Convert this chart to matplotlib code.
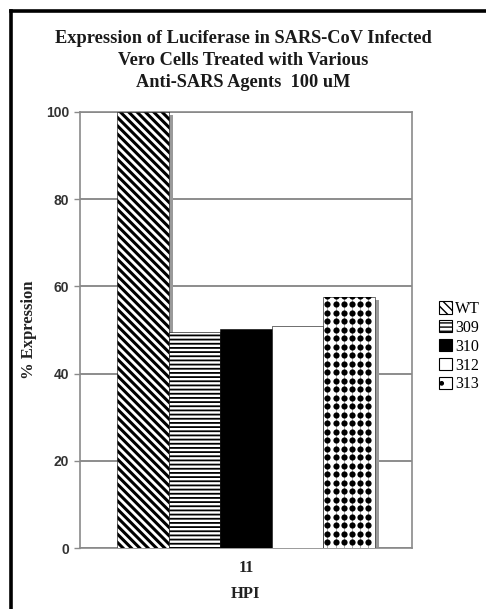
import numpy as np
import matplotlib
matplotlib.use('Agg')
import matplotlib.pyplot as plt
from matplotlib.patches import Patch
from matplotlib.lines import Line2D

# ---- data ----
groups = ['11']
series = ['WT', '309', '310', '312', '313']
values = [100.0, 49.6, 50.2, 50.9, 57.6]
hatches = ['\\\\\\\\', '----', '', '', '']
faces = ['white', 'white', 'black', 'white', 'white']
hatch_lw = [2.2, 1.3, 1.0, 1.0, 1.0]

SERIF = ['Liberation Serif', 'DejaVu Serif']
SANS = ['Liberation Sans', 'DejaVu Sans']

AX_W, AX_H = 332, 436  # axes size in px
fig = plt.figure(figsize=(4.86, 6.09), dpi=100)
ax = fig.add_axes([80 / 486, 1 - 548 / 609, AX_W / 486, AX_H / 609])

n = len(series)
wd = 0.1554
offs = (np.arange(n) - (n - 1) / 2) * wd
gray = '#8a8a8a'

# shadow (old excel style) behind each bar
for i in range(n):
    ax.bar(offs[i] + 0.013, values[i] - 0.8, wd, color='#9a9a9a', lw=0, zorder=2)

handles = []
bars = []
for i in range(n):
    with plt.rc_context({'hatch.linewidth': hatch_lw[i]}):
        b = ax.bar(offs[i], values[i], wd, color=faces[i], edgecolor='black',
                   hatch=hatches[i] or None, lw=0.4, zorder=3)
        for p in b:
            if hasattr(p, 'set_hatch_linewidth'):
                p.set_hatch_linewidth(hatch_lw[i])
        bars.append(b[0])
        h = Patch(facecolor=faces[i], edgecolor='black', hatch=hatches[i] or None, lw=0.8)
        if hasattr(h, 'set_hatch_linewidth'):
            h.set_hatch_linewidth(hatch_lw[i] * 0.7)
        handles.append(h)

# 313: square dot-grid fill, clipped to the bar
p = bars[4]
dx = 8.2 / AX_W
dy = 8.5 * 100 / AX_H
cols = np.arange(p.get_x() + dx / 2, p.get_x() + p.get_width(), dx)
rows = np.arange(p.get_height() + dy * 0.15, 0, -dy)
vl = ax.vlines(cols, 0, p.get_height(), color='#9a9a9a', lw=0.6, zorder=4)
vl.set_clip_path(p)
gx, gy = np.meshgrid(cols, rows)
sc = ax.scatter(gx.ravel(), gy.ravel(), s=20, color='black', lw=0, zorder=5)
sc.set_clip_path(p)
handles[4] = Patch(facecolor='white', edgecolor='black', hatch='.', lw=0.8)

ax.set_xlim(-0.5, 0.5)
ax.set_ylim(0, 100)
ax.set_yticks(np.arange(0, 101, 20))
ax.set_xticks([0])
ax.set_xticklabels(groups, family=SERIF, fontsize=11.5, fontweight='bold', color='#222222')
for lab in ax.get_yticklabels():
    lab.set_family(SANS)
    lab.set_fontweight('bold')
    lab.set_fontsize(10)
    lab.set_color('#333333')
ax.tick_params(axis='y', length=4, width=1, color=gray, pad=4)
ax.tick_params(axis='x', length=0, pad=9)
ax.grid(True, axis='y', color='#6e6e6e', lw=1.1, zorder=1)
for s in ax.spines.values():
    s.set_color(gray)
    s.set_linewidth(1.2)

ax.set_ylabel('% Expression', family=SERIF, fontsize=12, fontweight='bold', color='#222222')
ax.yaxis.set_label_coords((37 - 80) / AX_W, 0.5)
ax.set_xlabel('HPI', family=SERIF, fontsize=12, fontweight='bold', color='#222222')
ax.xaxis.set_label_coords(0.5, -(586 - 548) / AX_H)

fig.text(0.5, 1 - 30 / 609,
         'Expression of Luciferase in SARS-CoV Infected\n'
         'Vero Cells Treated with Various\n'
         'Anti-SARS Agents  100 uM',
         ha='center', va='top', family=SERIF, fontsize=13.2, fontweight='bold',
         color='#1a1a1a', linespacing=1.4)

fig.legend(handles, series, loc='upper left', bbox_to_anchor=(431 / 486, 1 - 293 / 609),
           frameon=False, handlelength=0.8, handleheight=0.8, handletextpad=0.2,
           labelspacing=0.18, borderpad=0,
           prop={'family': SERIF, 'size': 11.5})

# outer frame, only left and top edges show in the crop
fig.add_artist(Line2D([11 / 486, 11 / 486], [0, 1 - 11 / 609], transform=fig.transFigure,
                      color='black', lw=2.6))
fig.add_artist(Line2D([11 / 486, 1], [1 - 11 / 609, 1 - 11 / 609], transform=fig.transFigure,
                      color='black', lw=2.6))

fig.savefig('out.png', dpi=100)
